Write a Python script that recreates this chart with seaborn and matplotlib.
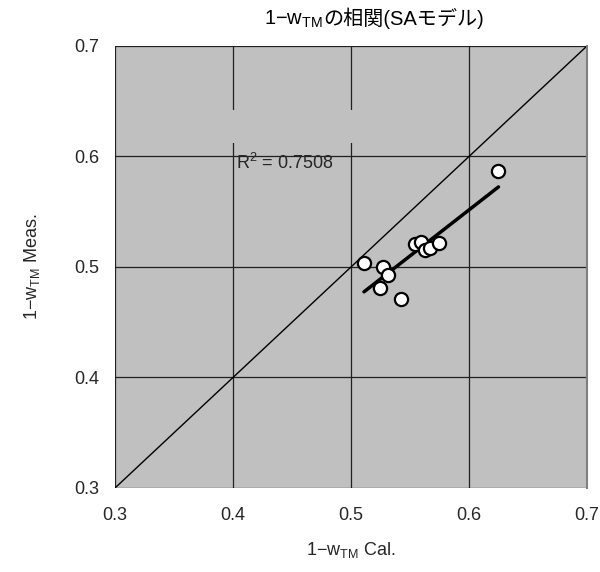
import numpy as np
import pandas as pd
import matplotlib
matplotlib.use("Agg")
import matplotlib.pyplot as plt
import seaborn as sns
from matplotlib.patches import Rectangle
from matplotlib.offsetbox import TextArea, HPacker, AnnotationBbox

calc = [0.511, 0.527, 0.531, 0.525, 0.542, 0.554, 0.559, 0.563, 0.567, 0.575, 0.625]
meas = [0.504, 0.500, 0.493, 0.481, 0.471, 0.5205, 0.523, 0.515, 0.5175, 0.522, 0.587]
ticks = [0.3, 0.4, 0.5, 0.6, 0.7]
title_math = "1−w$_\\mathregular{TM}$"
title_jp = "の相関(SAモデル)"
xlabel = "1−w$_\\mathregular{TM}$ Cal."
ylabel = "1−w$_\\mathregular{TM}$ Meas."
r2_text = "R$^\\mathregular{2}$ = 0.7508"

sns.set_style("white")
plt.rcParams['font.family'] = ['Liberation Sans', 'Noto Sans CJK JP']
plt.rcParams['mathtext.fontset'] = 'custom'
plt.rcParams['mathtext.rm'] = 'Liberation Sans'

df = pd.DataFrame({"calc": calc, "meas": meas})

fig = plt.figure(figsize=(6.0, 5.72), dpi=100)
ax = fig.add_axes([0.1917, 0.1469, 0.7866, 0.7727])
ax.set_facecolor("#c0c0c0")
ax.set_xlim(0.3, 0.7)
ax.set_ylim(0.3, 0.7)
ax.set_xticks(ticks)
ax.set_yticks(ticks)
ax.set_xticklabels([f"{t:.1f}" for t in ticks], fontsize=13)
ax.set_yticklabels([f"{t:.1f}" for t in ticks], fontsize=13)
ax.tick_params(axis="x", length=0, pad=14)
ax.tick_params(axis="y", length=0, pad=11.5)
ax.grid(True, color="#202020", linewidth=0.9, zorder=0)
ax.set_axisbelow(True)
for s in ax.spines.values():
    s.set_visible(False)
ax.spines['right'].set_visible(True)
ax.spines['right'].set_color("#808080")
ax.spines['right'].set_linewidth(1.5)

# gap in gridlines behind label box
ax.add_patch(Rectangle((0.39, 0.612), 0.13, 0.030, facecolor="#c0c0c0",
                       edgecolor="none", zorder=1))

ax.plot([0.3, 0.7], [0.3, 0.7], color="black", linewidth=1.0, zorder=2)
sns.regplot(data=df, x="calc", y="meas", ax=ax, scatter=False, ci=None,
            truncate=True, line_kws=dict(color="black", linewidth=2.5, zorder=3))
sns.scatterplot(data=df, x="calc", y="meas", ax=ax, s=90, color="white",
                edgecolor="black", linewidth=1.6, zorder=4)

ax.text(0.4025, 0.594, r2_text, fontsize=13, va="center", ha="left", zorder=5)

# title built from a math part and a Japanese part
tp = dict(fontsize=14.5, color="black")
box = HPacker(children=[TextArea(title_math, textprops=tp),
                        TextArea(title_jp, textprops=dict(fontsize=14.5, color="black",
                                 family=['Liberation Sans', 'Noto Sans CJK JP']))],
              align="baseline", pad=0, sep=1)
ab = AnnotationBbox(box, (374 / 600, 1 - 19 / 572), xycoords="figure fraction",
                    frameon=False, box_alignment=(0.5, 0.5))
fig.add_artist(ab)

ax.set_xlabel(xlabel, fontsize=13, labelpad=11)
ax.set_ylabel(ylabel, fontsize=13, labelpad=23)

fig.savefig("out.png", dpi=100)
